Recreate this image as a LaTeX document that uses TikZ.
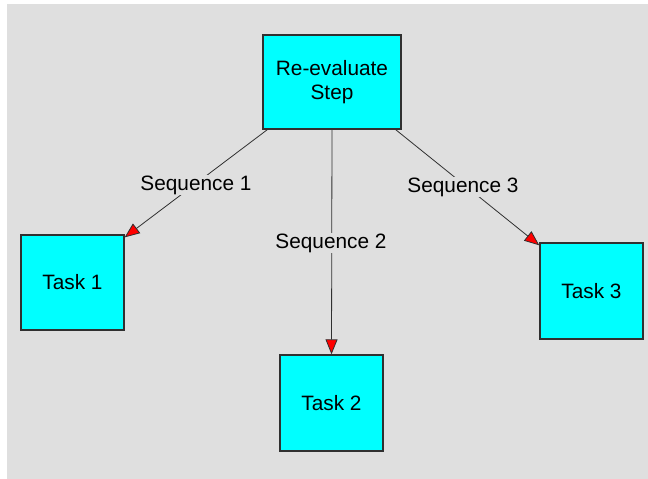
\documentclass[tikz,border=0pt]{standalone}
\usepackage{fontspec}
\setmainfont{Liberation Sans}
\usetikzlibrary{arrows.meta,calc}
\definecolor{bggray}{HTML}{DFDFDF}
\definecolor{boxcyan}{HTML}{00FFFF}
\definecolor{edgegray}{HTML}{303030}
\definecolor{tipred}{HTML}{FF0000}
\tikzset{
  box/.style={draw=edgegray, line width=1.3pt, fill=boxcyan, inner sep=0pt, align=center,
    font=\fontsize{20.8}{24}\selectfont},
  link/.style={draw=edgegray, line width=0.8pt,
    -{Triangle[length=15pt,width=12pt,fill=tipred,line width=0.8pt]}},
  lbl/.style={fill=bggray, inner sep=1pt, font=\fontsize{20.8}{24}\selectfont}
}
\begin{document}
\begin{tikzpicture}[x=1pt,y=-1pt]
\useasboundingbox (0,0) rectangle (648,479);
\fill[bggray] (7,4) rectangle (648,479);
\node[box, minimum width=138pt, minimum height=94pt] (re) at (332,82) {Re-evaluate\\Step};
\node[box, minimum width=103pt, minimum height=95pt] (t1) at (72.5,282.5) {Task 1};
\node[box, minimum width=103pt, minimum height=96pt] (t2) at (331.5,403) {Task 2};
\node[box, minimum width=103pt, minimum height=96pt] (t3) at (591.5,291) {Task 3};
\coordinate (s1) at ($(re.south west)+(5,0)$);
\coordinate (e1) at ($(t1.north east)+(0,3)$);
\coordinate (s3) at ($(re.south east)+(-6,0)$);
\coordinate (e3) at ($(t3.north west)+(0,3)$);
\draw[link] (s1) -- (e1);
\draw[link] (re.south) -- (t2.north);
\draw[link] (s3) -- (e3);
\node[lbl] (l1) at (196,185) {Sequence 1};
\node[lbl] (l2) at (331,243) {Sequence 2};
\node[lbl] (l3) at (463,187) {Sequence 3};
\end{tikzpicture}
\end{document}
